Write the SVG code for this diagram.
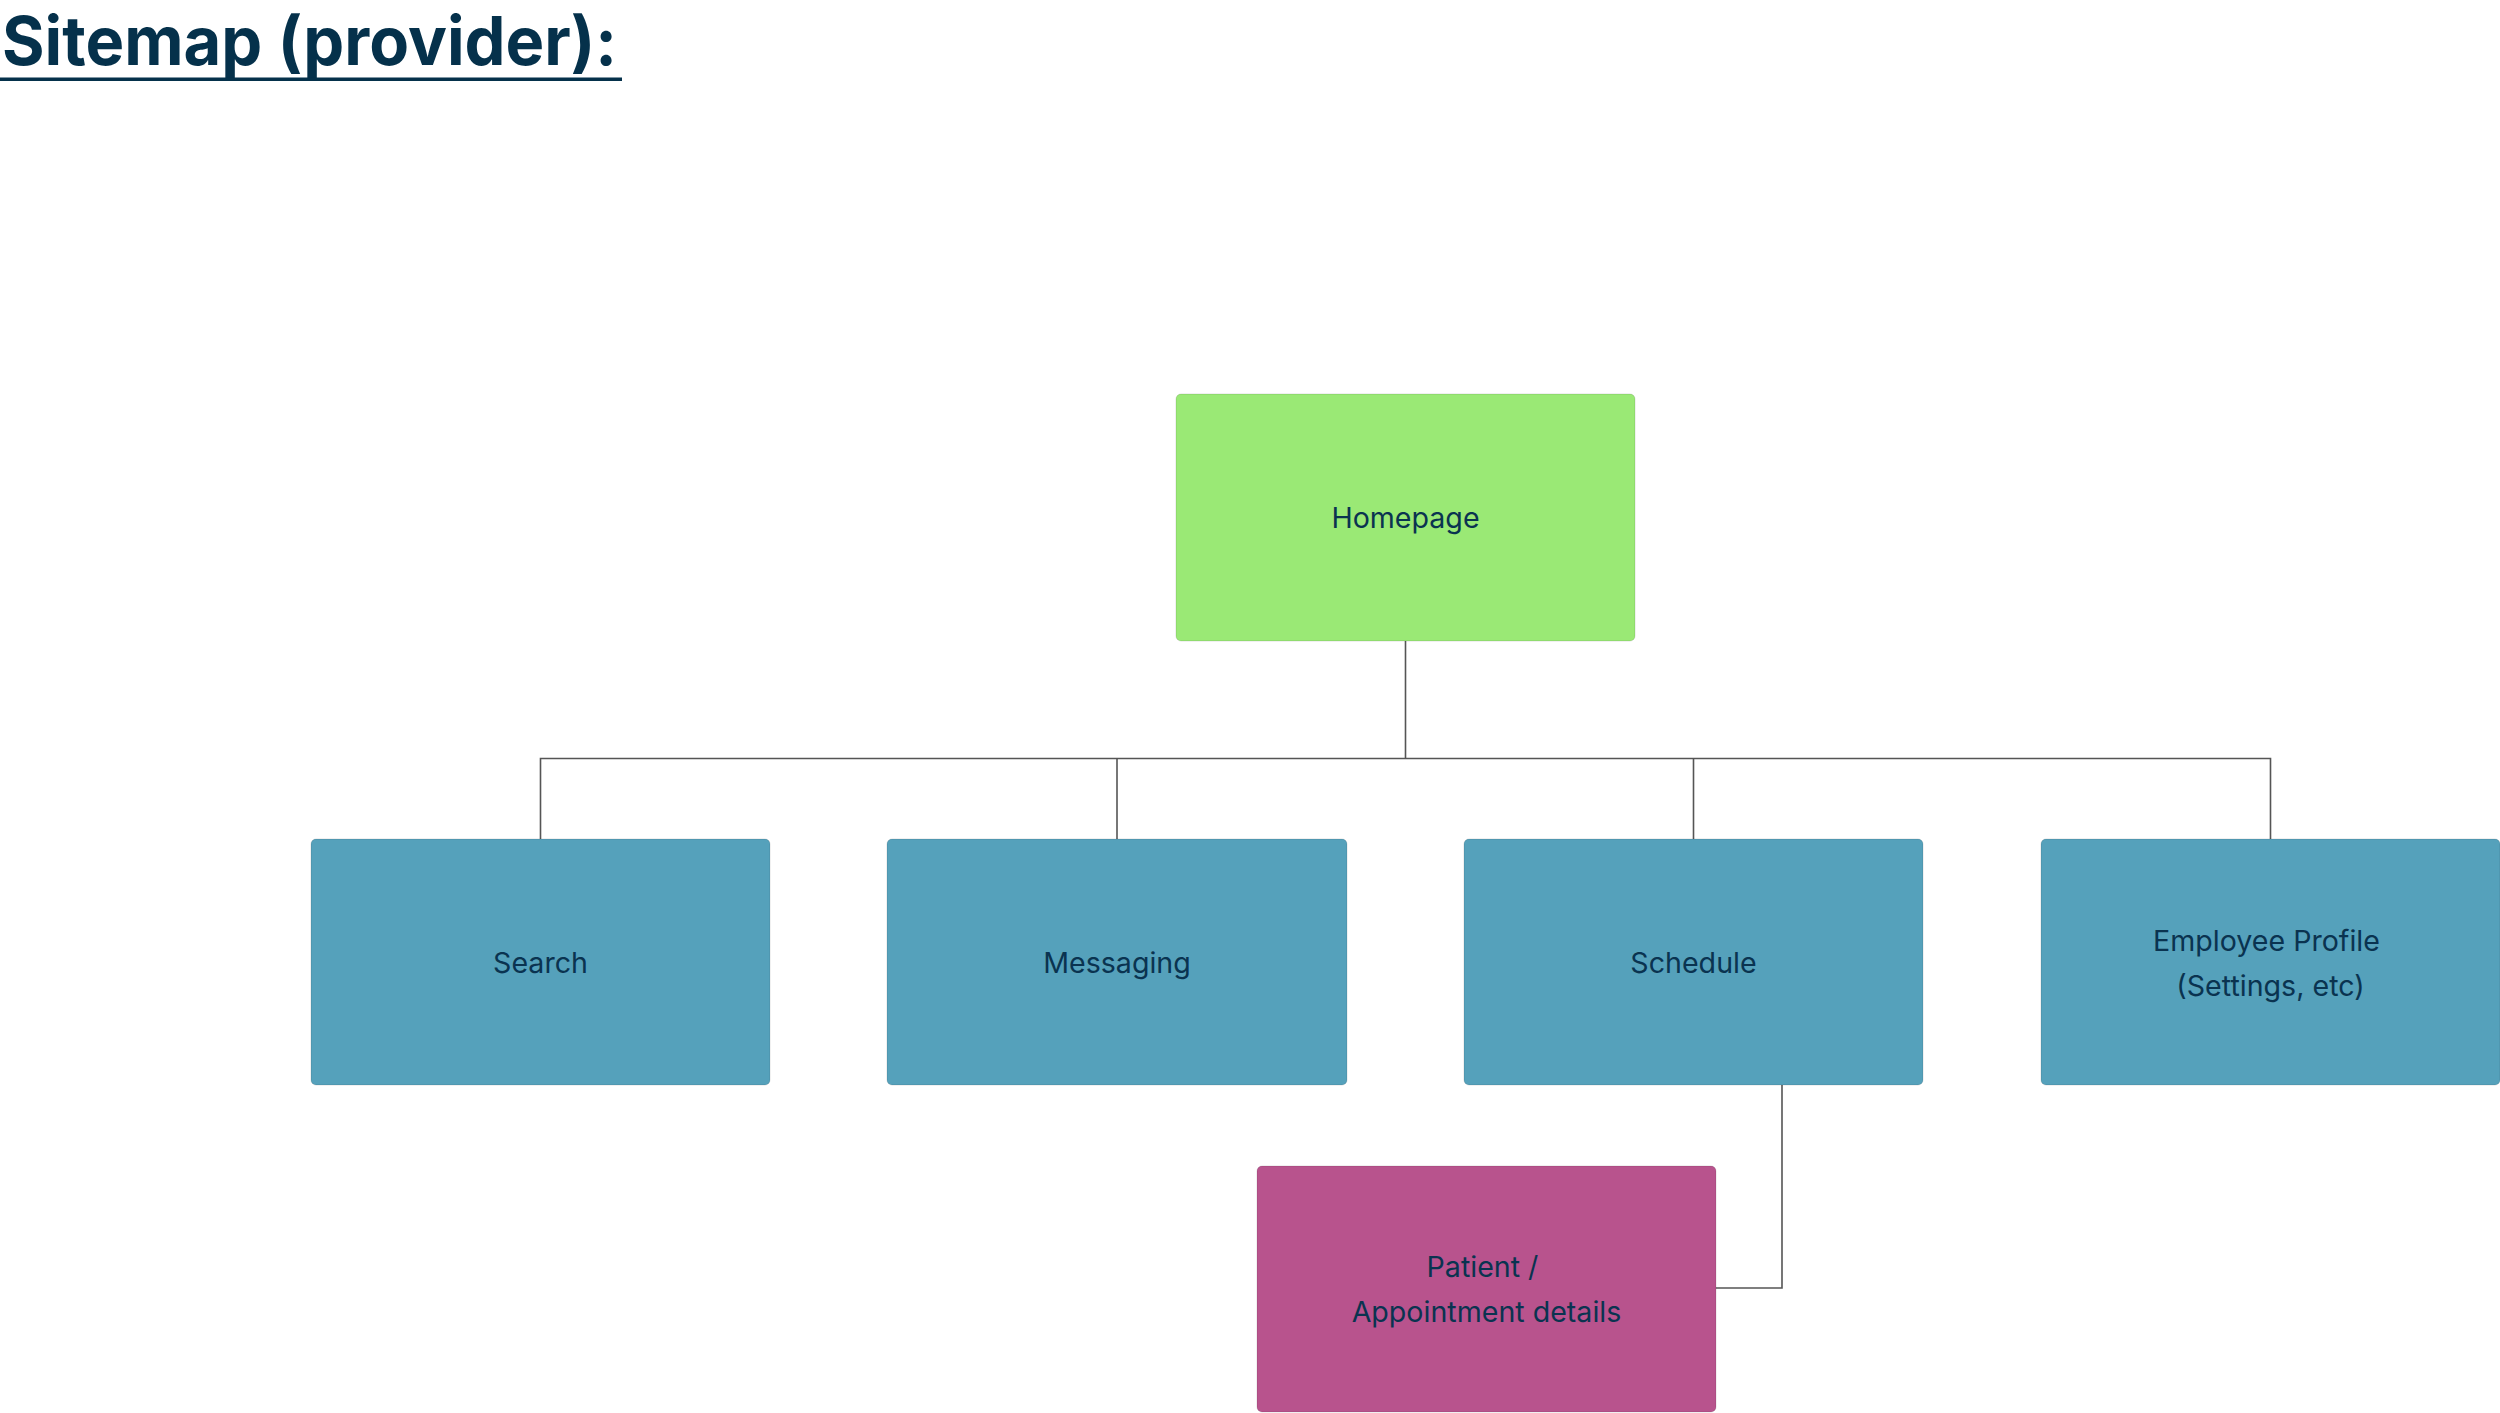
<svg xmlns="http://www.w3.org/2000/svg" width="2500" height="1413" viewBox="0 0 2500 1413">
<style>
.node { stroke: rgba(0,0,0,0.12); stroke-width: 1; }
.green { fill: #9AE975; }
.blue { fill: #55A1BB; }
.pink { fill: #B8538D; }
.label { font-family: Inter, "Noto Sans", "Liberation Sans", sans-serif; font-size: 28.6px; fill: #0A3350; text-anchor: middle; }
.title { font-family: Inter, "Noto Sans", "Liberation Sans", sans-serif; font-size: 67px; font-weight: 700; fill: #05314B; }
.conn { fill: none; stroke: #555; stroke-width: 1.6; }
</style>
<rect width="2500" height="1413" fill="#ffffff"/>
<g id="title">
<text class="title" x="2" y="65" textLength="615" lengthAdjust="spacingAndGlyphs">Sitemap (provider):</text>
<rect x="0" y="77.5" width="622" height="3.5" fill="#05314B"/>
</g>
<g id="connectors">
<path class="conn" d="M1405.5 641 V758.5"/>
<path class="conn" d="M540.5 839 V758.5 H2270.5 V839"/>
<path class="conn" d="M1117 758.5 V839"/>
<path class="conn" d="M1693.5 758.5 V839"/>
<path class="conn" d="M1782 1085 V1288 H1716"/>
</g>
<g id="homepage">
<rect class="node green" x="1176" y="394" width="459" height="247" rx="5"/>
<text class="label" x="1405.5" y="528">Homepage</text>
</g>
<g id="search">
<rect class="node blue" x="311" y="839" width="459" height="246" rx="5"/>
<text class="label" x="540.5" y="973">Search</text>
</g>
<g id="messaging">
<rect class="node blue" x="887" y="839" width="460" height="246" rx="5"/>
<text class="label" x="1117" y="973">Messaging</text>
</g>
<g id="schedule">
<rect class="node blue" x="1464" y="839" width="459" height="246" rx="5"/>
<text class="label" x="1693.5" y="973">Schedule</text>
</g>
<g id="employee-profile">
<rect class="node blue" x="2041" y="839" width="459" height="246" rx="5"/>
<text class="label" x="2266.5" y="951">Employee Profile</text>
<text class="label" x="2270.5" y="995.5">(Settings, etc)</text>
</g>
<g id="patient-details">
<rect class="node pink" x="1257" y="1166" width="459" height="246" rx="5"/>
<text class="label" x="1482.5" y="1277">Patient /</text>
<text class="label" x="1486.5" y="1321.5">Appointment details</text>
</g>
</svg>
